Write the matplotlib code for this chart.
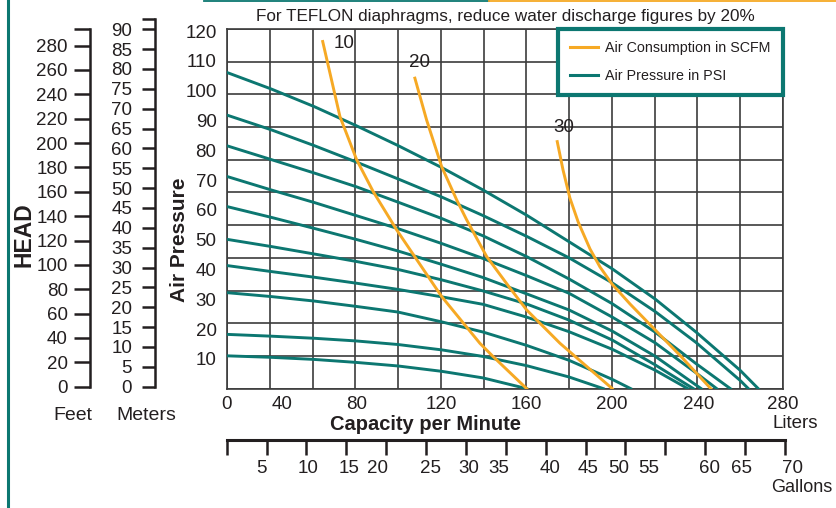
import numpy as np
import matplotlib.pyplot as plt
from matplotlib.lines import Line2D

plt.rcParams['font.family'] = ['Liberation Sans', 'DejaVu Sans']

# === Data ===
liter_ticks = [0, 40, 80, 120, 160, 200, 240, 280]
psi_ticks = [10, 20, 30, 40, 50, 60, 70, 80, 90, 100, 110, 120]
feet_ticks = list(range(0, 281, 20))
meter_ticks = list(range(0, 91, 5))
gallon_labels = [5, 10, 15, 20, 25, 30, 35, 40, 45, 50, 55, 60, 65, 70]

# capacity (liters/min) read at the vertical grid lines
grid_lpm = [0, 32.2, 57.2, 79.6, 99.4, 120, 139.4, 160, 179.8, 200, 219.7, 238.6, 259.5]

# air pressure curves: head (psi) vs capacity (liters/min)
p10_lpm = grid_lpm[:7] + [160]
p10_psi = [11.0, 10.5, 9.8, 8.8, 7.6, 5.8, 3.6, 0]
p20_lpm = grid_lpm[:9] + [195.8]
p20_psi = [18.2, 17.6, 16.9, 16.0, 14.8, 13.0, 10.8, 7.7, 3.9, 0]
p30_lpm = grid_lpm[:10] + [208.5]
p30_psi = [32.2, 30.9, 29.4, 27.6, 25.7, 22.4, 19.0, 14.5, 9.5, 3.1, 0]
p40_lpm = grid_lpm[:11] + [234.8]
p40_psi = [41.3, 39.3, 37.4, 35.4, 33.3, 30.8, 28.3, 24.0, 19.1, 13.2, 6.2, 0]
p50_lpm = grid_lpm[:11] + [237.4]
p50_psi = [50.1, 47.7, 45.2, 42.7, 40.0, 36.5, 32.8, 28.4, 23.0, 16.3, 8.0, 0]
p60_lpm = grid_lpm[:12] + [241]
p60_psi = [61.1, 57.5, 53.8, 50.1, 46.2, 41.7, 37.3, 31.8, 26.4, 19.3, 10.9, 1.2, 0]
p70_lpm = grid_lpm[:12] + [248.4]
p70_psi = [71.2, 66.7, 62.5, 58.1, 53.7, 48.7, 43.7, 37.9, 32.0, 24.0, 15.4, 5.3, 0]
p80_lpm = grid_lpm[:12] + [254.9]
p80_psi = [81.5, 76.9, 72.4, 67.8, 62.6, 57.1, 51.3, 44.3, 36.8, 28.5, 19.0, 8.4, 0]
p90_lpm = grid_lpm + [263.5]
p90_psi = [91.8, 86.9, 81.6, 76.1, 70.4, 64.3, 58.1, 51.1, 43.9, 35.5, 25.9, 15.5, 2.8, 0]
p100_lpm = grid_lpm + [268.2]
p100_psi = [106.1, 100.6, 94.7, 88.3, 81.6, 74.2, 66.7, 58.2, 49.3, 40.2, 30.1, 19.0, 6.2, 0]

# air consumption curves (SCFM)
s10_lpm = [61.9, 71.1, 80, 87.8, 98.8, 120, 138.0, 144.3, 160]
s10_psi = [116.5, 91.3, 76.8, 66.1, 53.3, 30.9, 15.2, 10.7, 0]
s20_lpm = [107.4, 112.9, 120, 127.1, 131.8, 141.2, 152.2, 160, 175.6, 200]
s20_psi = [104.2, 90.2, 74.5, 63.3, 56.6, 44.3, 33.7, 26.4, 15.2, 0]
s30_lpm = [174.3, 177.0, 180.2, 184.1, 189.6, 194.3, 199.9, 208.2, 219.8, 231.3, 245.6]
s30_psi = [82.9, 73.4, 64.0, 55.9, 46.9, 40.8, 35.1, 28.4, 19.7, 11.1, 0]
scfm_labels = ['10', '20', '30']

# === Layout / style ===
W, H = 837, 508
TEAL = '#0c7771'
ORANGE = '#f6a924'
GRID = '#3c3c3c'
TEXT = '#231f20'
# where each liter label sits along the (evenly gridded) capacity axis, 0..280
LITER_TICK_POS = [0, 27.5, 65.3, 108.1, 150.9, 194.0, 237.7, 280]
# gallon label positions in units of the 14 evenly spaced gallon ticks
GALLON_LABEL_POS = [0.86, 2.03, 3.07, 3.79, 5.12, 6.08, 6.83, 8.11,
                    9.07, 9.82, 10.59, 12.10, 12.91, 14.19]
SCFM_LABEL_AT = [(73.4, 115.7), (109.5, 109.4), (177.4, 87.7)]


def box(x0, y0, x1, y1):
    """Pixel box (top-left origin) -> figure fraction rect."""
    return [x0 / W, 1 - y1 / H, (x1 - x0) / W, (y1 - y0) / H]


def to_grid(v):
    return np.interp(v, liter_ticks, LITER_TICK_POS)


def from_grid(v):
    return np.interp(v, LITER_TICK_POS, liter_ticks)


fig = plt.figure(figsize=(W / 100, H / 100), dpi=100)

# === Main chart ===
ax = fig.add_axes(box(227, 29, 783, 388.6))
ax.set_xscale('function', functions=(to_grid, from_grid))
ax.set_xlim(0, 280)
ax.set_ylim(0, 120.7)
ax.vlines(np.linspace(0, 1, 14), 0, 1, transform=ax.transAxes,
          colors=GRID, lw=1.2, zorder=1)
ax.hlines(np.linspace(0, 1, 12), 0, 1, transform=ax.transAxes,
          colors=GRID, lw=1.2, zorder=1)

teal_curves = [(p10_lpm, p10_psi), (p20_lpm, p20_psi), (p30_lpm, p30_psi),
               (p40_lpm, p40_psi), (p50_lpm, p50_psi), (p60_lpm, p60_psi),
               (p70_lpm, p70_psi), (p80_lpm, p80_psi), (p90_lpm, p90_psi),
               (p100_lpm, p100_psi)]
for lpm, psi in teal_curves:
    ax.plot(lpm, psi, color=TEAL, lw=2.1, zorder=3, solid_joinstyle='round')

orange_curves = [(s10_lpm, s10_psi), (s20_lpm, s20_psi), (s30_lpm, s30_psi)]
for (lpm, psi), lab, (lx, ly) in zip(orange_curves, scfm_labels, SCFM_LABEL_AT):
    ax.plot(lpm, psi, color=ORANGE, lw=2.1, zorder=4, solid_joinstyle='round')
    ax.text(lx, ly, lab, ha='center', va='center', fontsize=13.5, color=TEXT)

for s in ax.spines.values():
    s.set_color(GRID)
    s.set_linewidth(1.2)
ax.set_xticks(liter_ticks, [str(v) for v in liter_ticks])
ax.set_yticks(psi_ticks, [str(v) for v in psi_ticks])
ax.tick_params(length=0, labelsize=13.5, labelcolor=TEXT)
ax.tick_params(axis='x', pad=5)
ax.tick_params(axis='y', pad=7.5)

handles = [Line2D([], [], color=ORANGE, lw=2.2),
           Line2D([], [], color=TEAL, lw=2.2)]
leg = ax.legend(handles, ['Air Consumption in SCFM', 'Air Pressure in PSI'],
                loc='upper right', bbox_to_anchor=(1, 1), borderaxespad=0,
                fancybox=False, framealpha=1, edgecolor=TEAL, fontsize=10.3,
                handlelength=1.9, handletextpad=0.55, borderpad=0.85,
                labelspacing=0.95)
leg.get_frame().set_linewidth(3)
leg.set_zorder(6)
for t in leg.get_texts():
    t.set_color(TEXT)

# === Feet scale ===
fa = fig.add_axes(box(90, 29.3, 91, 386.7))
fa.set_ylim(0, 293.4)
fa.set_yticks(feet_ticks + [293.4], [str(v) for v in feet_ticks] + [''])
# === Meters scale ===
ma = fig.add_axes(box(155, 19.3, 156, 386.7))
ma.set_ylim(0, 92.5)
ma.set_yticks(meter_ticks + [92.5], [str(v) for v in meter_ticks] + [''])
for a, tick_len, pad in [(fa, 11.5, 4.5), (ma, 9.5, 7)]:
    a.patch.set_visible(False)
    for side in ['top', 'right', 'bottom']:
        a.spines[side].set_visible(False)
    a.spines['left'].set_linewidth(1.8)
    a.spines['left'].set_color(TEXT)
    a.set_xticks([])
    a.tick_params(axis='y', direction='out', length=tick_len, width=1.8,
                  pad=pad, labelsize=13.5, labelcolor=TEXT, color=TEXT)

# === Gallons scale ===
ga = fig.add_axes(box(226.7, 420, 785, 440))
ga.patch.set_visible(False)
for side in ['top', 'right', 'left']:
    ga.spines[side].set_visible(False)
ga.spines['bottom'].set_linewidth(2.2)
ga.spines['bottom'].set_color(TEXT)
ga.set_xlim(0, 14)
ga.set_yticks([])
ga.set_xticks(range(15), [''] * 15)
ga.tick_params(axis='x', direction='out', length=11, width=1.8, color=TEXT)
for pos, lab in zip(GALLON_LABEL_POS, gallon_labels):
    ga.text(pos, -1.42, str(lab), transform=ga.get_xaxis_transform(),
            ha='center', va='center', fontsize=13.5, color=TEXT, clip_on=False)

# === Texts ===
fig.text(505 / W, 1 - 17 / H,
         'For TEFLON diaphragms, reduce water discharge figures by 20%',
         ha='center', va='center', fontsize=12.3, color=TEXT)
fig.text(426 / W, 1 - 424 / H, 'Capacity per Minute', ha='center', va='center',
         fontsize=14.5, fontweight='bold', color=TEXT)
fig.text(795 / W, 1 - 423 / H, 'Liters', ha='center', va='center',
         fontsize=13.5, color=TEXT)
fig.text(801.7 / W, 1 - 488 / H, 'Gallons', ha='center', va='center',
         fontsize=13, color=TEXT)
fig.text(73 / W, 1 - 416 / H, 'Feet', ha='center', va='center',
         fontsize=14, color=TEXT)
fig.text(146.7 / W, 1 - 416 / H, 'Meters', ha='center', va='center',
         fontsize=14, color=TEXT)
fig.text(24 / W, 1 - 235 / H, 'HEAD', ha='center', va='center', rotation=90,
         fontsize=16.5, fontweight='bold', color=TEXT)
fig.text(180 / W, 1 - 240 / H, 'Air Pressure', ha='center', va='center',
         rotation=90, fontsize=15, fontweight='bold', color=TEXT)

# === Frame decoration ===
fig.add_artist(Line2D([8.5 / W, 8.5 / W], [0, 1], color=TEAL, lw=2.2))
fig.add_artist(Line2D([204 / W, 489 / W], [1 - 0.8 / H] * 2, color=TEAL, lw=1.3))
fig.add_artist(Line2D([489 / W, 1], [1 - 0.8 / H] * 2, color=ORANGE, lw=1.3))

fig.savefig('out.png', dpi=100)
